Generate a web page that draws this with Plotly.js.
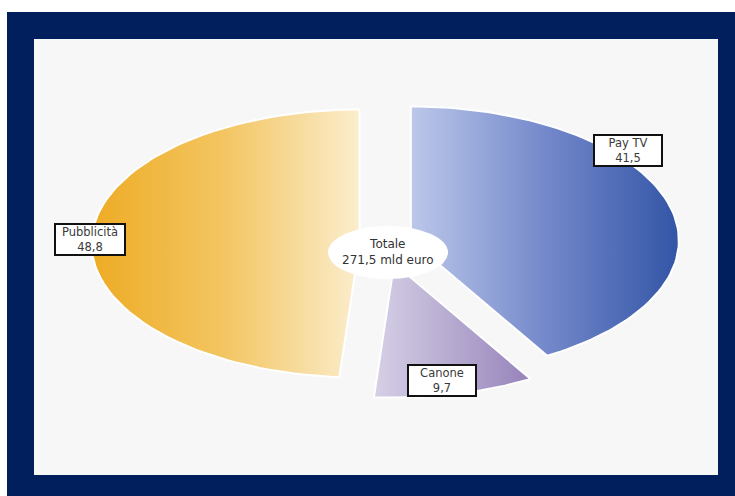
<!DOCTYPE html>
<html>
<head>
<meta charset="utf-8">
<script src="https://cdn.plot.ly/plotly-3.0.1.min.js"></script>
<style>html,body{margin:0;padding:0;background:#fff;}#chart{width:735px;height:496px;}</style>
</head>
<body>
<div id="chart"></div>
<script>
// ---- data ----
const categories = ['Pay TV', 'Canone', 'Pubblicità'];
const values = [41.5, 9.7, 48.8];
const valueLabels = ['41,5', '9,7', '48,8'];
const pulls = [0.10, 0.15, 0.095];
const totalLabel = 'Totale<br>271,5 mld euro';

// ---- styling / geometry ----
const colorscales = [
  [[0, '#bcc7ea'], [0.5, '#7489cb'], [1, '#3355a6']],
  [[0, '#d6d0e6'], [1, '#9683ba']],
  [[0, '#eeab24'], [0.5, '#f3c663'], [1, '#fbedcd']]
];
const cx = 385, cy = 244, rx = 268, ry = 134;
const total = values.reduce((a, b) => a + b, 0);
const deg = Math.PI / 180;

const traces = [];
let cum = 0;
values.forEach((v, i) => {
  const a0 = cum / total * 360;
  const a1 = (cum + v) / total * 360;
  cum += v;
  const mid = (a0 + a1) / 2;
  const ox = cx + pulls[i] * rx * Math.sin(mid * deg);
  const oy = cy - pulls[i] * ry * Math.cos(mid * deg);
  const xs = [ox], ys = [oy];
  const n = 90;
  for (let k = 0; k <= n; k++) {
    const a = (a0 + (a1 - a0) * k / n) * deg;
    xs.push(ox + rx * Math.sin(a));
    ys.push(oy - ry * Math.cos(a));
  }
  xs.push(ox); ys.push(oy);
  traces.push({
    type: 'scatter', mode: 'lines', x: xs, y: ys, name: categories[i],
    fill: 'toself',
    fillgradient: {type: 'horizontal', colorscale: colorscales[i]},
    line: {color: '#ffffff', width: 2},
    hoverinfo: 'skip'
  });
});

const labelPos = {
  'Pubblicità': [90, 239],
  'Pay TV': [628, 150],
  'Canone': [442, 380]
};
const annotations = categories.map((c, i) => ({
  x: labelPos[c][0], y: labelPos[c][1], xref: 'x', yref: 'y',
  text: c + '<br>' + valueLabels[i], showarrow: false,
  font: {family: 'DejaVu Sans, Verdana, sans-serif', size: 11.5, color: '#3a3a3a'},
  bgcolor: '#ffffff', bordercolor: '#111', borderwidth: 2, borderpad: 1,
  width: c === 'Pubblicità' ? 66 : 64, height: 27, align: 'center'
}));
annotations.push({
  x: 388, y: 252, xref: 'x', yref: 'y', text: totalLabel, showarrow: false,
  font: {family: 'DejaVu Sans, Verdana, sans-serif', size: 12, color: '#333'}
});

const layout = {
  width: 735, height: 496,
  margin: {l: 0, r: 0, t: 0, b: 0},
  paper_bgcolor: '#ffffff', plot_bgcolor: 'rgba(0,0,0,0)',
  showlegend: false, hovermode: false,
  xaxis: {range: [0, 735], visible: false, fixedrange: true},
  yaxis: {range: [496, 0], visible: false, fixedrange: true},
  shapes: [
    {type: 'rect', xref: 'x', yref: 'y', x0: 7, x1: 735, y0: 12, y1: 496,
     fillcolor: '#001f5c', line: {width: 0}, layer: 'below'},
    {type: 'rect', xref: 'x', yref: 'y', x0: 34, x1: 718, y0: 39, y1: 475,
     fillcolor: '#f7f7f7', line: {width: 0}, layer: 'below'},
    {type: 'circle', xref: 'x', yref: 'y', x0: 328, x1: 448, y0: 226, y1: 279,
     fillcolor: '#ffffff', line: {width: 0}, layer: 'above'}
  ],
  annotations: annotations
};

Plotly.newPlot('chart', traces, layout, {staticPlot: true, displayModeBar: false});
</script>
</body>
</html>
